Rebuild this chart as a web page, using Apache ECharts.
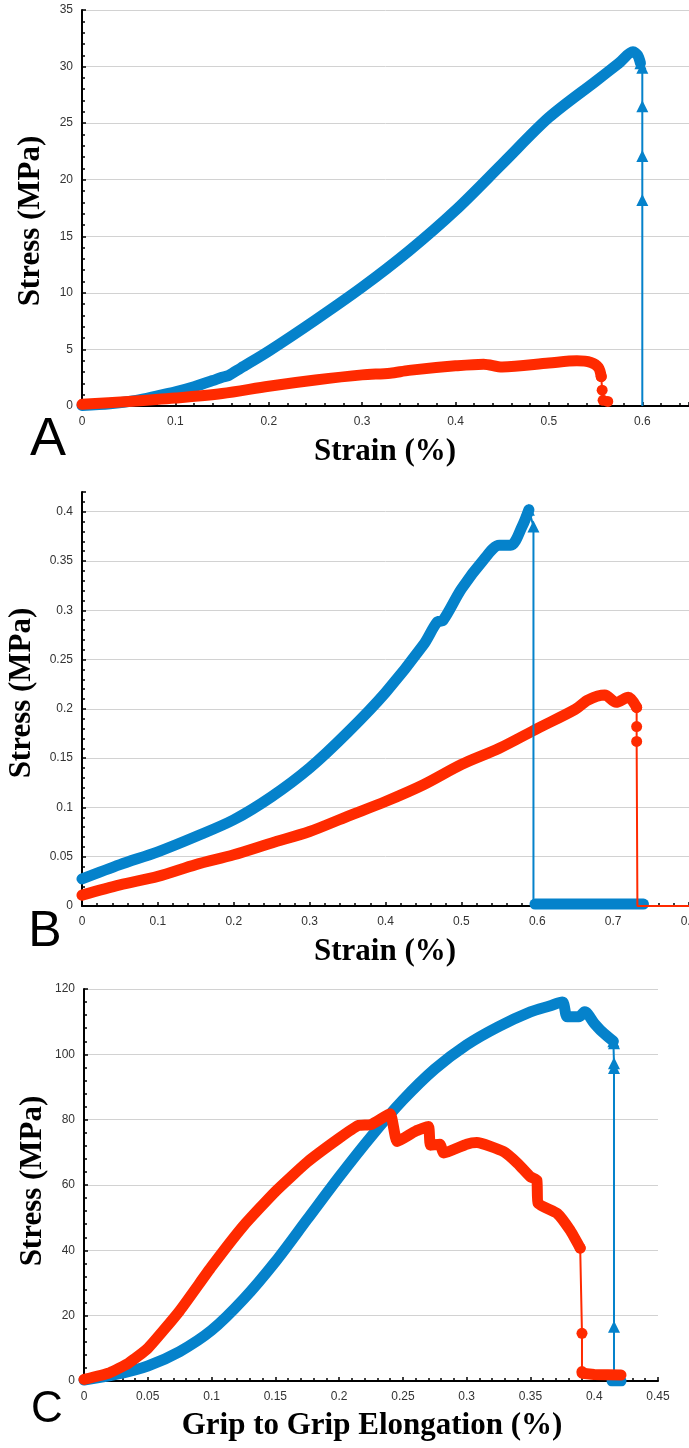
<!DOCTYPE html>
<html>
<head>
<meta charset="utf-8">
<script src="https://cdn.jsdelivr.net/npm/echarts@6/dist/echarts.min.js"></script>
<style>html,body{margin:0;padding:0;background:#fff}#c{width:689px;height:1448px}</style>
</head>
<body>
<div id="c"></div>
<script>
// ---------- Panel A : Stress (MPa) vs Strain (%) ----------
const blueA_curve = [[0,0.05],[0.03,0.2],[0.058,0.5],[0.083,0.95],[0.1,1.25],[0.12,1.7],[0.14,2.25],[0.15,2.55],[0.157,2.7],[0.17,3.35],[0.2,4.85],[0.25,7.6],[0.3,10.5],[0.35,13.7],[0.4,17.3],[0.45,21.4],[0.5,25.5],[0.55,28.7],[0.575,30.3],[0.59,31.3],[0.595,31.0],[0.598,30.3]];
const blueA_drop = [[0.598,30.3],[0.6,29.9],[0.6,26.5],[0.6,22.1],[0.6,18.2],[0.6,0]];
const redA_curve = [[0,0.15],[0.05,0.4],[0.1,0.7],[0.15,1.1],[0.2,1.75],[0.25,2.3],[0.3,2.75],[0.33,2.9],[0.35,3.15],[0.4,3.55],[0.43,3.7],[0.45,3.45],[0.5,3.8],[0.53,4.0],[0.545,3.85],[0.553,3.4],[0.556,2.6]];
const redA_drop = [[0.556,2.6],[0.557,1.4],[0.558,0.5],[0.563,0.4]];

// ---------- Panel B ----------
const blueB_curve = [[0,0.0275],[0.05,0.042],[0.1,0.055],[0.15,0.0705],[0.2,0.0875],[0.25,0.111],[0.3,0.14],[0.35,0.176],[0.4,0.2165],[0.45,0.265],[0.468,0.288],[0.476,0.29],[0.5,0.3216],[0.53,0.352],[0.55,0.366],[0.565,0.366],[0.58,0.385],[0.589,0.402]];
const blueB_drop = [[0.589,0.402],[0.595,0.385],[0.595,0]];
const blueB_zero = [[0.597,0.002],[0.74,0.002]];
const redB_curve = [[0,0.011],[0.05,0.0214],[0.1,0.030],[0.15,0.042],[0.2,0.052],[0.25,0.064],[0.3,0.0756],[0.35,0.091],[0.4,0.106],[0.45,0.123],[0.5,0.1435],[0.55,0.16],[0.6,0.18],[0.65,0.1995],[0.667,0.209],[0.689,0.214],[0.704,0.2066],[0.72,0.2117],[0.731,0.2015]];
const redB_drop = [[0.731,0.2015],[0.731,0.182],[0.731,0.167],[0.732,0],[0.8,0]];

// ---------- Panel C : Stress vs Grip to Grip Elongation ----------
const blueC_curve = [[0,0.3],[0.025,2],[0.05,4.6],[0.075,9],[0.1,15.5],[0.125,25],[0.15,36.5],[0.175,49.5],[0.2,62.5],[0.225,74.8],[0.25,86],[0.275,95.5],[0.3,102.9],[0.325,108.5],[0.35,113],[0.365,114.8],[0.375,116],[0.379,111.5],[0.388,111.5],[0.3925,113],[0.4,109.5],[0.406,107],[0.415,104]];
const blueC_drop = [[0.415,104],[0.4155,103.4],[0.4155,97.3],[0.4155,95.8],[0.4155,16.6],[0.4155,0]];
const blueC_zero = [[0.414,0],[0.421,0]];
const redC_curve = [[0,0.5],[0.02,2.5],[0.035,5.5],[0.05,10],[0.075,21.5],[0.1,35],[0.125,47.5],[0.15,58],[0.175,67],[0.2,74.3],[0.215,78.2],[0.225,78.5],[0.24,81.8],[0.2455,73.3],[0.26,76.5],[0.27,77.9],[0.2716,72.2],[0.279,72.5],[0.282,69.8],[0.3,72.5],[0.308,73.0],[0.329,70.2],[0.34,66.6],[0.35,62.5],[0.355,61.5],[0.356,54.4],[0.371,51.3],[0.381,46.2],[0.389,40.7]];
const redC_drop = [[0.389,40.7],[0.3904,14.6],[0.3904,2.9]];
const redC_tail = [[0.3905,2.4],[0.4,2.0],[0.421,1.8]];

// ---------- axes / ticks ----------
const xTicksA = {min:0, max:0.65, interval:0.1};
const yTicksA = {min:0, max:35, interval:5};
const xTicksB = {min:0, max:0.8, interval:0.1};
const yTicksB = {min:0, max:0.42, interval:0.05};
const xTicksC = {min:0, max:0.45, interval:0.05};
const yTicksC = {min:0, max:120, interval:20};

const BLUE = '#0582cb', RED = '#ff2a00';
const LABEL_FONT = "'Liberation Sans', Arial, sans-serif";
const TITLE_FONT = "'Liberation Serif', 'Times New Roman', serif";

function baseAxis(t, gi, isY, opts) {
  opts = opts || {};
  return {
    type:'value', gridIndex:gi, min:t.min, max:t.max, interval:t.interval,
    axisLine:{show:true, onZero:false, lineStyle:{color:'#000', width:2}},
    axisTick:{show:true, inside:true, length:4, lineStyle:{color:'#000', width:1.5}},
    minorTick:{show:true, splitNumber:5, length:3, lineStyle:{color:'#000', width:1.5}},
    axisLabel:{color:'#333', fontSize:12, fontFamily:LABEL_FONT, margin:isY?9:10,
               showMaxLabel: opts.hideMax ? false : true, hideOverlap:false},
    splitLine:{show:isY, showMaxLine: opts.hideMaxLine ? false : true, lineStyle:{color:'#d2d2d2', width:1}}
  };
}

function thick(data, color, xi, z, sm) {
  return {type:'line', xAxisIndex:xi, yAxisIndex:xi, data:data, symbol:'none', z:z,
    smooth: sm || false,
    lineStyle:{color:color, width:11, cap:'round', join:'round'}, silent:true};
}
function thin(data, color, xi, sym, z) {
  const d = data.map(p => p[1] === 0 ? {value:p, symbol:'none'} : {value:p});
  return {type:'line', xAxisIndex:xi, yAxisIndex:xi, data:d, symbol:sym, symbolSize: sym==='triangle'?12:11,
    showSymbol:true, z:z, itemStyle:{color:color, borderWidth:0}, lineStyle:{color:color, width:2}, silent:true};
}

function txt(s, x, y, font, rot) {
  return {type:'text', x:x, y:y, rotation:rot||0, style:{text:s, font:font, fill:'#000', textAlign:'center', textVerticalAlign:'middle'}};
}

const gridBase = {containLabel:false, outerBoundsMode:'none'};
const option = {
  animation:false,
  backgroundColor:'#fff',
  grid:[
    Object.assign({left:82, top:10, width:607, height:396}, gridBase),
    Object.assign({left:82, top:492, width:607, height:414}, gridBase),
    Object.assign({left:84, top:989, width:574, height:392}, gridBase)
  ],
  xAxis:[
    baseAxis(xTicksA, 0, false, {hideMax:true}),
    baseAxis(xTicksB, 1, false),
    baseAxis(xTicksC, 2, false)
  ],
  yAxis:[
    baseAxis(yTicksA, 0, true),
    baseAxis(yTicksB, 1, true, {hideMax:true, hideMaxLine:true}),
    baseAxis(yTicksC, 2, true)
  ],
  series:[
    thick(blueA_curve, BLUE, 0, 2, 0.3),
    thin(blueA_drop, BLUE, 0, 'triangle', 2),
    thick(redA_curve, RED, 0, 3, 0.3),
    thin(redA_drop, RED, 0, 'circle', 3),

    thick(blueB_curve, BLUE, 1, 2, 0.3),
    thick(blueB_zero, BLUE, 1, 2),
    thick(redB_curve, RED, 1, 3, 0.3),
    thin(redB_drop, RED, 1, 'circle', 3),
    thin(blueB_drop, BLUE, 1, 'triangle', 4),

    thick(blueC_curve, BLUE, 2, 2, 0.3),
    thick(blueC_zero, BLUE, 2, 2),
    thin(blueC_drop, BLUE, 2, 'triangle', 2),
    thick(redC_curve, RED, 2, 3, 0.15),
    thin(redC_drop, RED, 2, 'circle', 3),
    thick(redC_tail, RED, 2, 3)
  ],
  graphic:[
    txt('Stress (MPa)', 31, 221, 'bold 31px ' + TITLE_FONT, Math.PI/2),
    txt('Strain (%)', 385, 452, 'bold 31px ' + TITLE_FONT),
    txt('A', 48, 440, '54px ' + LABEL_FONT),

    txt('Stress (MPa)', 22, 693, 'bold 31px ' + TITLE_FONT, Math.PI/2),
    txt('Strain (%)', 385, 952, 'bold 31px ' + TITLE_FONT),
    txt('B', 45, 932, '50px ' + LABEL_FONT),

    txt('Stress (MPa)', 33, 1181, 'bold 31px ' + TITLE_FONT, Math.PI/2),
    txt('Grip to Grip Elongation (%)', 372, 1426, 'bold 31px ' + TITLE_FONT),
    txt('C', 47, 1410, '44px ' + LABEL_FONT)
  ]
};

const chart = echarts.init(document.getElementById('c'), null, {renderer:'canvas'});
chart.setOption(option);
</script>
</body>
</html>
